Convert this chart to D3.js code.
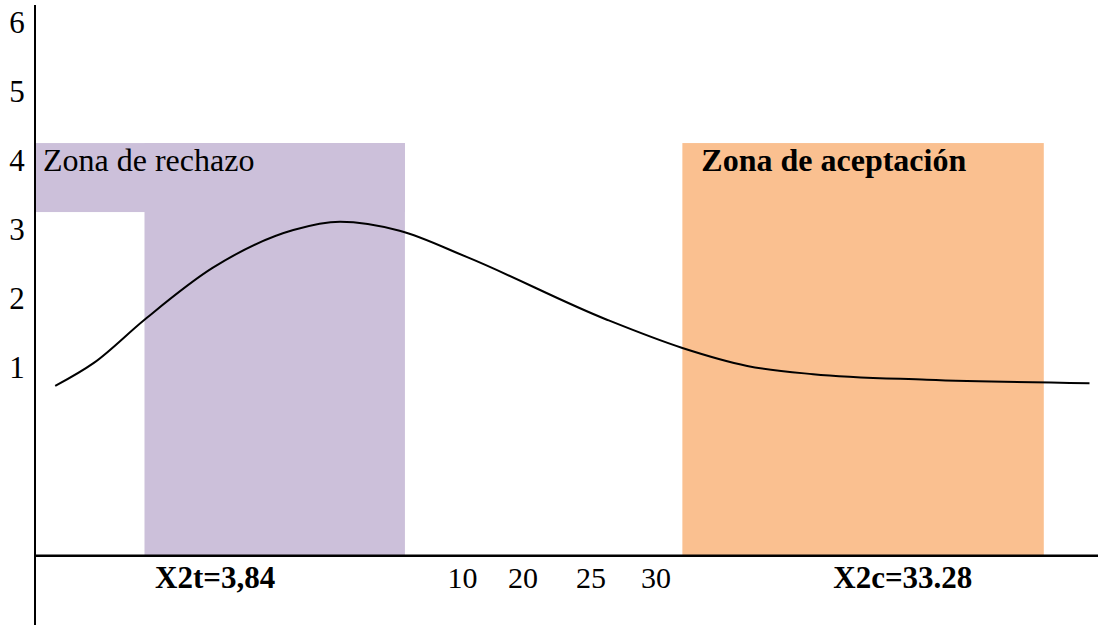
<!DOCTYPE html>
<html>
<head>
<meta charset="utf-8">
<script src="https://cdn.jsdelivr.net/npm/d3@7"></script>
<style>
  html, body { margin: 0; padding: 0; background: #fff; }
  svg { display: block; }
</style>
</head>
<body>
<svg id="chart" width="1098" height="625" font-family="'Liberation Serif', 'Times New Roman', Times, serif"></svg>
<script>
// ---- data ----
const yTickLabels = [1, 2, 3, 4, 5, 6];
const xTickLabels = ["10", "20", "25", "30"];
const xTickAt = [38.8, 44.5, 50.9, 57.0];
const criticalLabels = ["X2t=3,84", "X2c=33.28"];
const criticalAt = [11.3, 75.1];
const curveX = [1.9, 5.5, 10.3, 16.7, 24.3, 28.7, 34.3, 40.6, 53.8, 60.9, 67.0, 73.2, 83.9, 99.2];
const curveY = [0.74, 1.07, 1.70, 2.45, 3.00, 3.12, 2.99, 2.61, 1.70, 1.29, 1.03, 0.91, 0.83, 0.78];
const zoneNames = ["Zona de rechazo", "Zona de aceptación"];
const rejectBand = {x0: 0, x1: 34.8, y0: 3.26, y1: 4.26};
const rejectBlock = {x0: 10.3, x1: 34.8, y0: -1.72, y1: 4.26};
const acceptBlock = {x0: 60.9, x1: 94.9, y0: -1.72, y1: 4.26};
const baseValue = -1.72;

// ---- scales ----
const svg = d3.select("#chart");
const x = d3.scaleLinear().domain([0, 100]).range([35, 1098]);
const y = d3.scaleLinear().domain([1, 6]).range([368, 23]);

function rect(z, color) {
  svg.append("rect")
    .attr("x", x(z.x0)).attr("y", y(z.y1))
    .attr("width", x(z.x1) - x(z.x0)).attr("height", y(z.y0) - y(z.y1))
    .attr("fill", color);
}
rect(rejectBand, "#ccc0da");
rect(rejectBlock, "#ccc0da");
rect(acceptBlock, "#fac090");

svg.append("text").attr("x", x(0) + 8).attr("y", y(4) + 10)
  .attr("font-size", 32).text(zoneNames[0]);
svg.append("text").attr("x", x(acceptBlock.x0) + 19).attr("y", y(4) + 10)
  .attr("font-size", 32).attr("font-weight", "bold").text(zoneNames[1]);

const pts = curveX.map((d, i) => [d, curveY[i]]);
svg.append("path")
  .attr("d", d3.line().x(d => x(d[0])).y(d => y(d[1])).curve(d3.curveMonotoneX)(pts))
  .attr("fill", "none").attr("stroke", "#000").attr("stroke-width", 2);

svg.append("line").attr("x1", x(0)).attr("x2", x(0)).attr("y1", 5).attr("y2", 625)
  .attr("stroke", "#000").attr("stroke-width", 2);
svg.append("line").attr("x1", x(0)).attr("x2", x(100)).attr("y1", y(baseValue)).attr("y2", y(baseValue))
  .attr("stroke", "#000").attr("stroke-width", 2.5);

svg.selectAll(".ylab").data(yTickLabels).enter().append("text")
  .attr("x", 17).attr("y", d => y(d) + 10)
  .attr("text-anchor", "middle").attr("font-size", 31).text(d => d);

const baseY = y(baseValue) + 32;
svg.selectAll(".xlab").data(xTickLabels).enter().append("text")
  .attr("x", (d, i) => x(xTickAt[i])).attr("y", baseY)
  .attr("font-size", 30).text(d => d);
svg.selectAll(".clab").data(criticalLabels).enter().append("text")
  .attr("x", (d, i) => x(criticalAt[i])).attr("y", baseY)
  .attr("font-size", 31).attr("font-weight", "bold").text(d => d);
</script>
</body>
</html>
